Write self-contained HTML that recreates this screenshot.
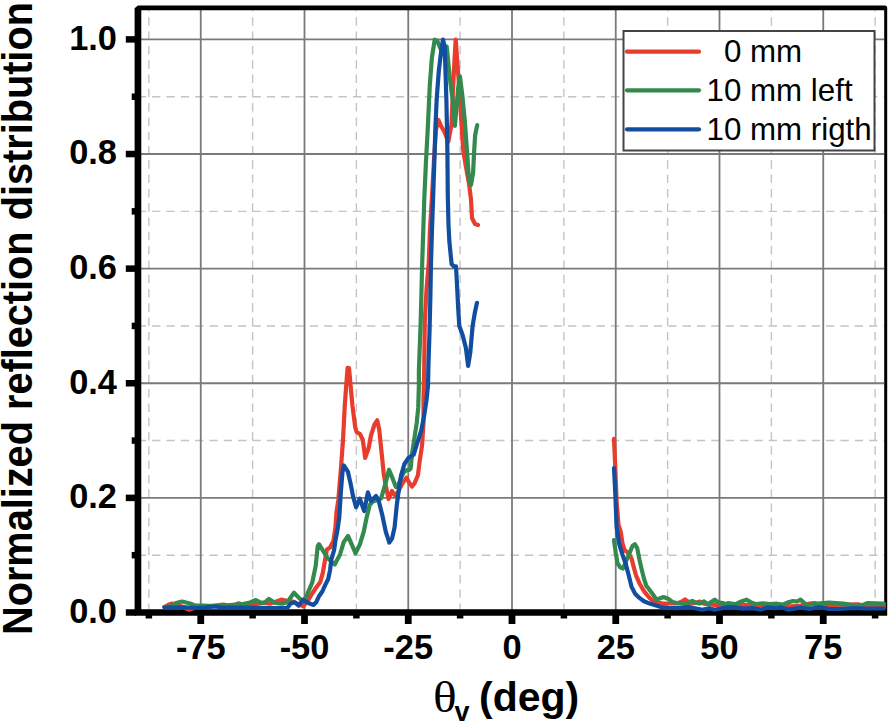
<!DOCTYPE html>
<html><head><meta charset="utf-8"><style>
html,body{margin:0;padding:0;background:#fff;}
body{width:890px;height:725px;position:relative;overflow:hidden;font-family:"Liberation Sans",sans-serif;}
svg{position:absolute;left:0;top:0;}
.mn{stroke:#c4c4c4;stroke-width:1.4;stroke-dasharray:8.3 6.04;fill:none;}
.mv{stroke-dasharray:8.5 5.8;stroke-dashoffset:7.3;}
.mj{stroke:#7a7a7a;stroke-width:1.8;fill:none;}
.c{fill:none;stroke-width:4.2;stroke-linejoin:round;stroke-linecap:round;}
.r{stroke:#e83c2d;}
.g{stroke:#348a4e;}
.b{stroke:#124ea0;}
.yl{position:absolute;left:40px;width:77px;text-align:right;font-weight:bold;font-size:34.4px;line-height:40px;color:#000;}
.xl{position:absolute;top:627px;width:100px;text-align:center;font-weight:bold;font-size:34.4px;line-height:40px;color:#000;}
.lg{position:absolute;font-size:31.3px;line-height:36px;color:#000;white-space:pre;}
#yt{position:absolute;left:-3.6px;top:634.8px;font-weight:bold;font-size:42px;line-height:43px;white-space:nowrap;color:#000;
transform-origin:0 0;transform:rotate(-90deg) scaleX(0.945);}
.xt{position:absolute;line-height:46px;white-space:nowrap;color:#000;}
</style></head><body>
<svg width="890" height="725" viewBox="0 0 890 725">
<line x1="148.87" y1="10.3" x2="148.87" y2="609" class="mn mv"/>
<line x1="252.62" y1="10.3" x2="252.62" y2="609" class="mn mv"/>
<line x1="356.38" y1="10.3" x2="356.38" y2="609" class="mn mv"/>
<line x1="460.12" y1="10.3" x2="460.12" y2="609" class="mn mv"/>
<line x1="563.88" y1="10.3" x2="563.88" y2="609" class="mn mv"/>
<line x1="667.62" y1="10.3" x2="667.62" y2="609" class="mn mv"/>
<line x1="771.38" y1="10.3" x2="771.38" y2="609" class="mn mv"/>
<line x1="875.12" y1="10.3" x2="875.12" y2="609" class="mn mv"/>
<line x1="137.76" y1="555.19" x2="884" y2="555.19" class="mn"/>
<line x1="137.76" y1="440.57" x2="884" y2="440.57" class="mn"/>
<line x1="137.76" y1="325.95" x2="884" y2="325.95" class="mn"/>
<line x1="137.76" y1="211.33" x2="884" y2="211.33" class="mn"/>
<line x1="137.76" y1="96.71" x2="884" y2="96.71" class="mn"/>
<line x1="200.75" y1="10" x2="200.75" y2="610" class="mj"/>
<line x1="304.50" y1="10" x2="304.50" y2="610" class="mj"/>
<line x1="408.25" y1="10" x2="408.25" y2="610" class="mj"/>
<line x1="512.00" y1="10" x2="512.00" y2="610" class="mj"/>
<line x1="615.75" y1="10" x2="615.75" y2="610" class="mj"/>
<line x1="719.50" y1="10" x2="719.50" y2="610" class="mj"/>
<line x1="823.25" y1="10" x2="823.25" y2="610" class="mj"/>
<line x1="141" y1="497.88" x2="884" y2="497.88" class="mj"/>
<line x1="141" y1="383.26" x2="884" y2="383.26" class="mj"/>
<line x1="141" y1="268.64" x2="884" y2="268.64" class="mj"/>
<line x1="141" y1="154.02" x2="884" y2="154.02" class="mj"/>
<line x1="141" y1="39.40" x2="884" y2="39.40" class="mj"/>
<path fill-rule="evenodd" fill="#000" d="M134.6 8.3 L137.9 5.5 L884.7 5.5 Q887.2 5.5 887.2 8 L887.2 615.8 L134.6 615.8 Z M141.3 10.2 L141.3 609.2 L884.2 609.2 L884.2 10.2 Z"/>
<polyline class="c r" points="164.5,607.0 168.0,605.0 172.0,603.5 176.0,605.0 182.0,606.5 188.7,609.7 198.0,607.0 210.0,606.0 223.5,604.5 231.6,606.9 238.3,603.3 247.8,606.0 256.0,604.0 264.0,602.7 270.4,603.6 281.2,599.6 286.6,600.9 293.3,601.6 303.4,606.3 308.2,600.2 312.2,593.5 316.2,587.4 320.3,582.0 322.9,572.4 324.9,560.6 326.9,549.5 330.1,547.5 333.4,541.0 335.4,527.9 336.5,512.0 338.3,500.0 341.0,467.6 343.0,440.0 344.8,405.2 346.2,385.9 347.6,367.9 349.0,368.0 350.5,384.5 352.4,405.2 355.2,427.2 356.6,432.0 360.0,434.1 362.8,439.7 365.2,457.9 368.6,448.3 371.0,435.5 374.5,424.5 377.2,420.3 379.3,430.0 381.7,453.8 383.8,474.5 385.9,486.0 388.6,499.0 392.0,491.0 394.8,495.5 398.0,492.0 401.0,486.0 404.0,481.0 406.5,477.8 409.2,482.6 412.0,486.5 414.5,483.4 417.9,475.2 419.7,460.9 422.0,445.8 423.5,423.0 423.5,400.3 424.2,370.0 424.8,321.0 426.5,290.0 428.8,262.0 430.0,229.0 432.0,196.0 434.0,160.0 436.0,130.0 438.5,120.0 441.0,126.0 444.0,131.0 448.3,141.7 451.4,125.0 453.0,90.0 454.5,60.0 455.7,39.5 457.4,63.0 459.0,85.0 460.7,112.0 463.2,150.0 465.8,166.0 468.9,183.0 471.0,199.5 472.0,218.0 475.0,224.0 478.0,225.0"/>
<polyline class="c g" points="164.5,607.0 172.0,606.0 176.0,603.0 182.0,601.5 190.0,603.5 195.0,605.5 202.0,605.5 215.0,606.0 230.0,605.0 243.7,603.8 250.0,602.5 255.9,600.0 261.2,602.8 265.0,602.3 269.0,598.9 275.1,602.9 281.9,603.6 287.3,602.3 294.0,592.8 300.0,598.9 304.1,600.2 306.8,595.5 309.5,588.8 312.2,582.7 315.7,565.9 317.7,546.2 319.0,544.2 327.5,558.0 334.7,564.5 340.0,554.5 343.7,542.1 348.0,535.9 351.8,544.6 355.5,553.3 359.8,544.6 363.6,532.2 366.7,517.3 369.8,504.8 373.5,501.1 377.9,499.9 381.0,498.6 384.7,486.2 389.0,469.7 392.4,477.9 395.9,487.0 398.0,486.0 401.0,478.0 404.0,472.0 407.0,470.0 409.1,470.0 410.6,468.5 412.1,453.3 414.4,438.2 416.7,423.0 418.2,407.9 418.9,385.2 418.9,370.0 420.7,321.4 421.5,290.3 422.2,262.6 423.3,229.4 424.4,196.3 425.9,163.1 427.7,130.0 429.8,85.2 431.9,57.6 434.7,39.7 437.4,41.0 439.0,45.0 441.5,51.0 443.5,51.0 446.7,46.5 450.0,79.6 453.3,104.4 454.9,125.9 458.2,87.9 459.9,76.3 462.4,96.1 464.8,120.9 466.9,150.0 468.9,178.8 471.0,185.0 473.1,172.6 474.1,152.0 475.1,135.5 477.2,125.1"/>
<polyline class="c b" points="164.5,607.5 175.0,607.5 185.0,607.3 195.5,608.0 205.0,607.5 215.0,606.5 222.0,607.5 240.0,607.6 260.0,607.8 275.0,608.0 287.3,608.0 290.6,603.6 294.7,602.3 298.7,605.6 302.8,600.2 306.1,601.6 309.5,603.6 313.5,605.0 316.2,602.3 319.0,596.2 322.3,591.5 325.0,585.4 328.2,579.0 330.1,569.8 331.4,559.3 334.1,550.1 335.5,540.0 337.5,530.0 339.3,517.3 341.0,490.0 342.5,472.0 343.8,465.5 347.9,471.7 350.7,484.1 353.0,496.1 356.1,507.3 359.8,498.6 364.2,511.1 367.9,492.4 371.0,501.1 376.0,496.1 378.5,499.9 382.2,514.8 385.9,532.2 389.3,542.5 392.1,538.4 394.6,527.2 396.8,505.0 398.9,489.5 401.0,475.7 404.4,464.0 408.6,457.8 413.6,454.8 417.4,442.7 421.2,430.6 424.2,415.5 426.5,400.3 428.0,385.2 428.5,363.0 429.5,332.0 430.3,300.0 431.0,263.0 432.0,229.0 433.2,196.0 434.3,163.0 435.3,130.0 436.7,99.0 438.8,71.0 441.2,51.0 443.0,39.5 444.7,47.0 445.6,75.0 446.4,100.0 447.0,130.0 447.4,152.0 447.8,196.0 448.5,225.0 449.4,242.0 451.6,264.0 453.8,266.4 456.0,266.4 457.1,286.3 458.2,308.4 459.3,326.0 462.6,334.9 465.9,348.1 468.1,365.8 470.3,352.5 472.6,326.0 474.8,312.8 477.0,302.8"/>
<polyline class="c r" points="614.0,438.9 615.3,468.2 616.6,501.3 618.5,525.0 620.8,532.0 622.5,543.6 624.7,550.4 628.1,552.6 631.5,558.3 633.8,567.4 636.0,575.3 639.4,583.2 644.0,591.1 648.5,596.8 653.0,601.3 657.5,602.5 663.2,603.6 670.0,603.5 677.0,603.5 682.0,601.5 685.0,599.5 688.0,601.5 690.4,603.3 695.0,603.0 699.9,601.5 704.0,603.7 713.0,604.6 721.9,606.0 728.4,603.0 735.0,605.0 745.7,605.1 760.0,605.5 775.0,605.5 791.5,606.4 800.5,605.5 809.7,603.5 814.5,603.0 819.3,604.9 835.0,604.9 858.0,604.4 867.6,606.4 884.0,606.4"/>
<polyline class="c g" points="614.0,540.2 615.7,552.6 617.4,562.8 620.2,567.4 623.0,568.5 625.8,561.7 629.2,553.8 632.6,545.8 634.9,544.2 637.2,548.1 639.4,559.4 641.7,569.6 644.0,578.7 646.2,585.5 649.6,590.0 653.0,594.5 656.4,599.7 659.5,598.5 663.5,597.0 668.0,598.8 672.5,602.0 677.0,603.0 681.0,603.5 686.0,604.0 692.2,601.0 696.7,603.0 699.9,603.5 704.0,601.5 707.5,604.2 714.7,599.7 718.3,602.4 722.8,603.0 726.0,604.5 729.5,603.7 735.8,604.2 741.2,601.5 746.6,599.7 751.1,602.4 756.5,604.2 762.8,603.3 770.0,604.2 777.1,603.7 782.5,604.6 787.9,602.4 793.3,601.0 797.0,601.5 800.5,599.7 803.9,602.5 806.8,605.5 814.5,603.9 829.0,602.5 843.5,603.5 853.1,605.4 862.8,604.9 867.6,603.0 884.0,603.5"/>
<polyline class="c b" points="614.0,468.2 615.3,493.7 616.6,526.8 619.1,543.6 622.5,554.9 625.8,564.0 628.7,575.3 631.5,586.6 634.9,593.4 639.4,597.9 644.0,601.3 649.6,603.6 655.3,605.3 660.9,607.0 668.0,607.8 677.0,608.2 688.7,607.0 695.0,608.2 702.1,609.8 709.3,608.2 714.7,609.8 721.9,608.2 728.2,607.3 734.0,607.3 743.0,608.7 752.0,608.2 761.0,609.6 768.1,607.3 775.3,608.2 780.7,607.3 787.9,609.6 796.9,608.2 800.0,607.5 809.7,609.0 819.3,607.0 829.0,609.0 840.0,608.8 854.1,608.0 863.8,608.5 884.0,608.5"/>
<rect x="623.5" y="31" width="251" height="119.5" fill="#fff" stroke="#444" stroke-width="2"/>
<line x1="627" y1="51.7" x2="699" y2="51.7" class="c r"/>
<line x1="627" y1="90.3" x2="699" y2="90.3" class="c g"/>
<line x1="627" y1="129.3" x2="699" y2="129.3" class="c b"/>
<line x1="125.8" y1="612.50" x2="136" y2="612.50" stroke="#000" stroke-width="6.5"/>
<line x1="125.8" y1="497.88" x2="136" y2="497.88" stroke="#000" stroke-width="6.5"/>
<line x1="125.8" y1="383.26" x2="136" y2="383.26" stroke="#000" stroke-width="6.5"/>
<line x1="125.8" y1="268.64" x2="136" y2="268.64" stroke="#000" stroke-width="6.5"/>
<line x1="125.8" y1="154.02" x2="136" y2="154.02" stroke="#000" stroke-width="6.5"/>
<line x1="125.8" y1="39.40" x2="136" y2="39.40" stroke="#000" stroke-width="6.5"/>
<line x1="131.7" y1="555.19" x2="136" y2="555.19" stroke="#000" stroke-width="6.5"/>
<line x1="131.7" y1="440.57" x2="136" y2="440.57" stroke="#000" stroke-width="6.5"/>
<line x1="131.7" y1="325.95" x2="136" y2="325.95" stroke="#000" stroke-width="6.5"/>
<line x1="131.7" y1="211.33" x2="136" y2="211.33" stroke="#000" stroke-width="6.5"/>
<line x1="131.7" y1="96.71" x2="136" y2="96.71" stroke="#000" stroke-width="6.5"/>
<line x1="200.75" y1="612" x2="200.75" y2="624" stroke="#000" stroke-width="6.8"/>
<line x1="304.50" y1="612" x2="304.50" y2="624" stroke="#000" stroke-width="6.8"/>
<line x1="408.25" y1="612" x2="408.25" y2="624" stroke="#000" stroke-width="6.8"/>
<line x1="512.00" y1="612" x2="512.00" y2="624" stroke="#000" stroke-width="6.8"/>
<line x1="615.75" y1="612" x2="615.75" y2="624" stroke="#000" stroke-width="6.8"/>
<line x1="719.50" y1="612" x2="719.50" y2="624" stroke="#000" stroke-width="6.8"/>
<line x1="823.25" y1="612" x2="823.25" y2="624" stroke="#000" stroke-width="6.8"/>
<line x1="148.87" y1="612" x2="148.87" y2="618.5" stroke="#000" stroke-width="6.5"/>
<line x1="252.62" y1="612" x2="252.62" y2="618.5" stroke="#000" stroke-width="6.5"/>
<line x1="356.38" y1="612" x2="356.38" y2="618.5" stroke="#000" stroke-width="6.5"/>
<line x1="460.12" y1="612" x2="460.12" y2="618.5" stroke="#000" stroke-width="6.5"/>
<line x1="563.88" y1="612" x2="563.88" y2="618.5" stroke="#000" stroke-width="6.5"/>
<line x1="667.62" y1="612" x2="667.62" y2="618.5" stroke="#000" stroke-width="6.5"/>
<line x1="771.38" y1="612" x2="771.38" y2="618.5" stroke="#000" stroke-width="6.5"/>
<line x1="875.12" y1="612" x2="875.12" y2="618.5" stroke="#000" stroke-width="6.5"/>
</svg>
<div class="yl" style="top:590.8px">0.0</div>
<div class="yl" style="top:476.2px">0.2</div>
<div class="yl" style="top:361.6px">0.4</div>
<div class="yl" style="top:246.9px">0.6</div>
<div class="yl" style="top:132.3px">0.8</div>
<div class="yl" style="top:17.7px">1.0</div>

<div class="xl" style="left:150.8px">-75</div>
<div class="xl" style="left:254.5px">-50</div>
<div class="xl" style="left:358.2px">-25</div>
<div class="xl" style="left:462.0px">0</div>
<div class="xl" style="left:565.8px">25</div>
<div class="xl" style="left:669.5px">50</div>
<div class="xl" style="left:773.2px">75</div>

<div class="lg" style="left:706.5px;top:34px">  0 mm</div>
<div class="lg" style="left:706.5px;top:73px">10 mm left</div>
<div class="lg" style="left:706.5px;top:112px">10 mm rigth</div>
<div id="yt">Normalized reflection distribution</div>
<div class="xt" style="left:433px;top:673.5px;font-family:'Liberation Serif',serif;font-size:45px;transform:scaleX(1.1);transform-origin:0 0;">&theta;</div>
<div class="xt" style="left:454.5px;top:689px;font-weight:bold;font-size:27px;">v</div>
<div class="xt" style="left:479px;top:674px;font-weight:bold;font-size:41px;">(deg)</div>
</body></html>
